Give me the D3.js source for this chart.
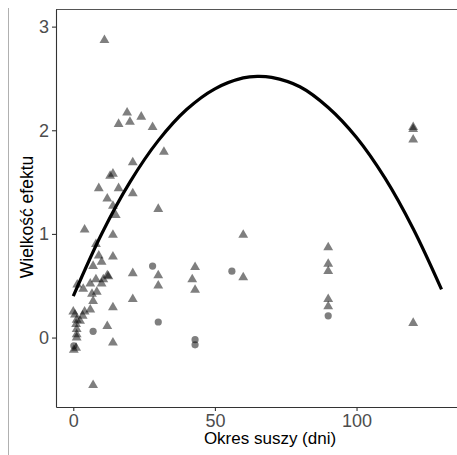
<!DOCTYPE html>
<html>
<head>
<meta charset="utf-8">
<title>okres suszy</title>
<style>
  body { margin: 0; background: #fff; }
  text { font-family: "Liberation Sans", Arial, sans-serif; }
</style>
</head>
<body>
<main></main>
<script src="https://cdn.jsdelivr.net/npm/d3@7/dist/d3.min.js"></script>
<script>
    // dane
    var triX = [11, 19, 24, 20, 16, 28, 32, 21, 14, 13, 9, 16, 21, 12, 14, 30, 15, 4, 14, 8,
        9, 14, 10, 7, 12, 12.4, 10.6, 10, 8, 6, 1.4, 3.5, 6.6, 8.3, 21, 7, 21, 14, 0, 0.6,
        1.2, 1, 1.2, 1.2, 1.2, 0.2, 1, 4, 6, 3.3, 2.4, 12, 14, 7, 60, 90, 90, 90, 90, 90,
        60, 30, 30, 43, 42, 43, 120, 120, 120, 120];
    var triY = [2.87, 2.17, 2.13, 2.08, 2.06, 2.03, 1.79, 1.69, 1.58, 1.56, 1.44, 1.44, 1.39, 1.34, 1.27, 1.24, 1.18, 1.04, 0.99, 0.90,
        0.79, 0.78, 0.73, 0.69, 0.60, 0.59, 0.56, 0.52, 0.56, 0.52, 0.51, 0.47, 0.42, 0.44, 0.62, 0.35, 0.37, 0.29, 0.25, 0.22,
        0.17, 0.13, 0.08, 0.03, 0.00, -0.12, -0.10, 0.25, 0.27, 0.21, 0.16, 0.11, -0.05, -0.46, 0.99, 0.87, 0.71, 0.64, 0.37, 0.30,
        0.58, 0.60, 0.50, 0.68, 0.56, 0.46, 2.03, 2.01, 1.91, 0.14];
    var circX = [7, 0.2, 90, 56, 28, 30, 43, 43];
    var circY = [0.06, -0.08, 0.21, 0.64, 0.69, 0.15, -0.02, -0.07];

    // krzywa dopasowania
    var fitX = [0, 10, 20, 30, 40, 50, 60, 65, 70, 80, 90, 100, 110, 120, 130];
    var fitY = [0.40, 1.00, 1.50, 1.90, 2.20, 2.40, 2.505, 2.52, 2.51, 2.42, 2.22, 1.93, 1.54, 1.05, 0.465];

    var xTicks = [0, 50, 100];
    var yTicks = [0, 1, 2, 3];

    var width = 457;
    var height = 455;
    var svg = d3.select("main")
        .append("svg")
        .attr("width", width)
        .attr("height", height);

    var pLeft = 56, pRight = 484, pTop = 9, pBottom = 407;

    var x = d3.scaleLinear()
        .domain([-6.1, 145])
        .range([pLeft, pRight]);
    var y = d3.scaleLinear()
        .domain([-0.67, 3.17])
        .range([pBottom, pTop]);

    // ramka obrazka
    svg.append("line")
        .attr("x1", 8.5).attr("x2", 8.5)
        .attr("y1", 8).attr("y2", height)
        .attr("stroke", "#b0b0b0");
    svg.append("line")
        .attr("x1", pLeft).attr("x2", width)
        .attr("y1", pTop + 0.5).attr("y2", pTop + 0.5)
        .attr("stroke", "#555");

    // osie
    var xAxis = svg.append("g")
        .attr("transform", "translate(0," + pBottom + ")")
        .call(d3.axisBottom(x).tickValues(xTicks).tickFormat(d3.format("d"))
            .tickSizeInner(4).tickSizeOuter(0).tickPadding(3));
    var yAxis = svg.append("g")
        .attr("transform", "translate(" + pLeft + ",0)")
        .call(d3.axisLeft(y).tickValues(yTicks).tickFormat(d3.format("d"))
            .tickSizeInner(4).tickSizeOuter(0).tickPadding(3));

    [xAxis, yAxis].forEach(function (a) {
        a.select(".domain").attr("stroke", "#333").attr("stroke-width", 1.1);
        a.selectAll(".tick line").attr("stroke", "#333").attr("stroke-width", 1.1);
        a.selectAll(".tick text")
            .attr("fill", "#4d4d4d")
            .style("font-size", "18px")
            .style("font-family", "Liberation Sans, Arial, sans-serif");
    });

    svg.append("clipPath").attr("id", "panel")
        .append("rect")
        .attr("x", pLeft).attr("y", pTop)
        .attr("width", pRight - pLeft).attr("height", pBottom - pTop);

    var g = svg.append("g").attr("clip-path", "url(#panel)");

    // punkty
    var tri = d3.symbol().type(d3.symbolTriangle).size(42);
    g.selectAll("path.tri")
        .data(triX)
        .enter()
        .append("path")
        .attr("class", "tri")
        .attr("d", tri)
        .attr("transform", function (d, i) {
            return "translate(" + x(d) + "," + y(triY[i]) + ")";
        })
        .attr("fill", "#000")
        .attr("fill-opacity", 0.5);

    g.selectAll("circle")
        .data(circX)
        .enter()
        .append("circle")
        .attr("cx", function (d) { return x(d); })
        .attr("cy", function (d, i) { return y(circY[i]); })
        .attr("r", 3.6)
        .attr("fill", "#000")
        .attr("fill-opacity", 0.5);

    var line = d3.line()
        .x(function (d) { return x(d); })
        .y(function (d, i) { return y(fitY[i]); })
        .curve(d3.curveCatmullRom);
    g.append("path")
        .datum(fitX)
        .attr("d", line)
        .attr("fill", "none")
        .attr("stroke", "#000")
        .attr("stroke-width", 3.2);

    // tytuly osi
    svg.append("text")
        .attr("x", 270)
        .attr("y", 444)
        .attr("text-anchor", "middle")
        .style("font-size", "17px")
        .text("Okres suszy (dni)");
    svg.append("text")
        .attr("transform", "translate(33,217) rotate(-90)")
        .attr("text-anchor", "middle")
        .style("font-size", "17.5px")
        .text("Wielkość efektu");
</script>
</body>
</html>
